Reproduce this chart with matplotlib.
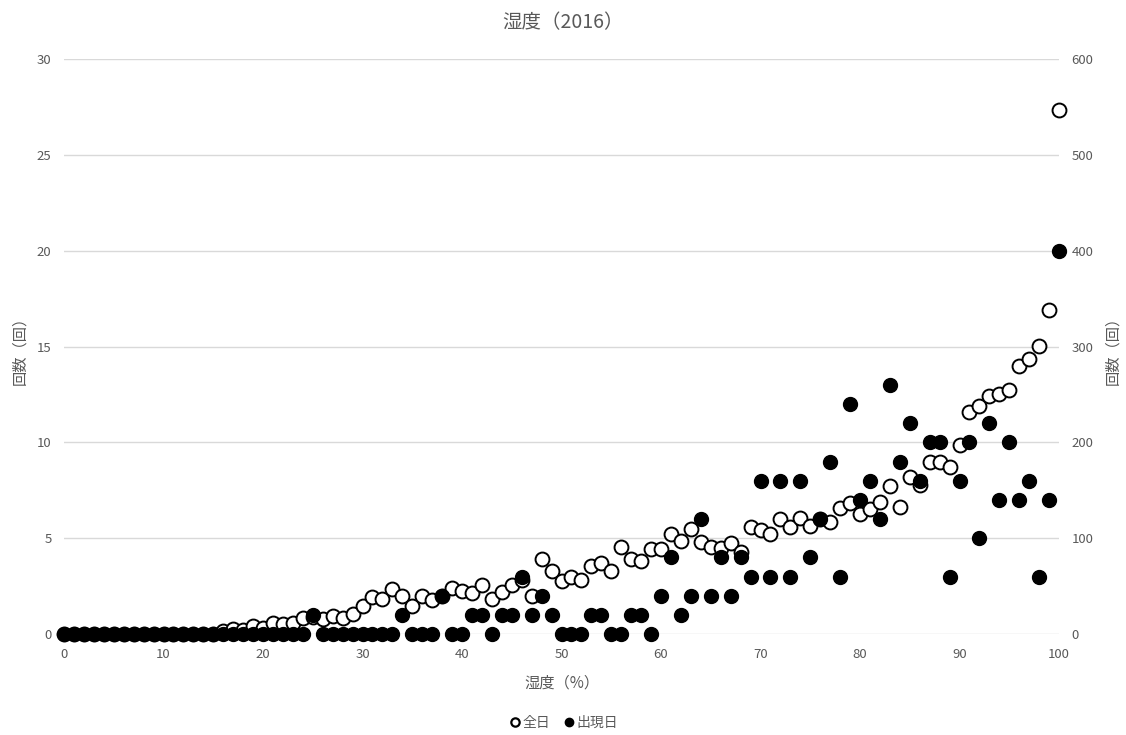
import matplotlib
matplotlib.use("Agg")
import matplotlib.pyplot as plt
from matplotlib.lines import Line2D

plt.rcParams['font.family'] = ['Noto Sans CJK JP', 'DejaVu Sans']

# Humidity (%) bins
humidity = list(range(0, 101))

# Number of occurrence days per humidity bin (left axis)
occurrence_days = [
    0, 0, 0, 0, 0, 0, 0, 0, 0, 0,
    0, 0, 0, 0, 0, 0, 0, 0, 0, 0,
    0, 0, 0, 0, 0, 1, 0, 0, 0, 0,
    0, 0, 0, 0, 1, 0, 0, 0, 2, 0,
    0, 1, 1, 0, 1, 1, 3, 1, 2, 1,
    0, 0, 0, 1, 1, 0, 0, 1, 1, 0,
    2, 4, 1, 2, 6, 2, 4, 2, 4, 3,
    8, 3, 8, 3, 8, 4, 6, 9, 3, 12,
    7, 8, 6, 13, 9, 11, 8, 10, 10, 3,
    8, 10, 5, 11, 7, 10, 7, 8, 3, 7,
    20,
]

# Number of all days per humidity bin (right axis)
all_days = [
    0, 0, 0, 0, 0, 0, 0, 0, 0, 0,
    0, 0, 0, 0, 0, 0, 3, 5, 4, 8,
    6, 12, 10, 11, 17, 18, 16, 19, 17, 21,
    29, 39, 37, 47, 40, 29, 40, 36, 40, 48,
    45, 43, 51, 37, 44, 51, 56, 40, 78, 66,
    55, 59, 56, 71, 74, 66, 91, 78, 76, 89,
    89, 104, 97, 110, 96, 91, 90, 95, 86, 112,
    109, 104, 120, 112, 121, 113, 120, 117, 131, 137,
    125, 130, 138, 154, 133, 164, 156, 179, 179, 174,
    197, 232, 238, 248, 250, 255, 280, 287, 301, 338,
    547,
]

title = "湿度（2016）"
xlabel = "湿度（%）"
ylabel = "回数（回）"
legend_labels = ["全日", "出現日"]

text_color = "#595959"
grid_color = "#d9d9d9"

fig = plt.figure(figsize=(11.26, 7.35), dpi=100, facecolor="white")
ax = fig.add_axes([64 / 1126, 1 - 634 / 735, (1059 - 64) / 1126, (634 - 59) / 735])
ax2 = ax.twinx()

# left axis (occurrence days) sits above the right axis (all days)
ax.set_zorder(ax2.get_zorder() + 1)
ax.patch.set_visible(False)

ax2.scatter(humidity, all_days, s=100, facecolors="white", edgecolors="black",
            linewidths=1.4, zorder=3, clip_on=False)
ax.scatter(humidity, occurrence_days, s=100, facecolors="black", edgecolors="black",
           linewidths=1.0, zorder=3, clip_on=False)

ax.set_xlim(0, 100)
ax.set_ylim(0, 30)
ax2.set_ylim(0, 600)
ax.set_xticks(range(0, 101, 10))
ax.set_yticks(range(0, 31, 5))
ax2.set_yticks(range(0, 601, 100))

for a in (ax, ax2):
    for sp in a.spines.values():
        sp.set_visible(False)
    a.tick_params(length=0, labelsize=9.5, colors=text_color, pad=9)

ax.tick_params(axis="x", pad=10)
ax2.yaxis.grid(True, color=grid_color, linewidth=1.0, zorder=0)
ax2.set_axisbelow(True)

ax.set_xlabel(xlabel, fontsize=11, color=text_color, labelpad=10)
ax.set_ylabel(ylabel, fontsize=11, color=text_color, labelpad=6)
ax2.set_ylabel(ylabel, fontsize=11, color=text_color, rotation=90, labelpad=8)

fig.text(0.5, 1 - 23 / 735, title, ha="center", va="center", fontsize=14, color=text_color)

handles = [
    Line2D([], [], linestyle="none", marker="o", markersize=6, markerfacecolor="white",
           markeredgecolor="black", markeredgewidth=1.6),
    Line2D([], [], linestyle="none", marker="o", markersize=6, markerfacecolor="black",
           markeredgecolor="black"),
]
leg = fig.legend(handles, legend_labels, loc="center", bbox_to_anchor=(0.5, 1 - 723 / 735),
                 ncol=2, frameon=False, fontsize=10, handletextpad=0.0, columnspacing=0.9,
                 handlelength=1.0)
for t in leg.get_texts():
    t.set_color(text_color)

fig.savefig("out.png", dpi=100, facecolor="white")
